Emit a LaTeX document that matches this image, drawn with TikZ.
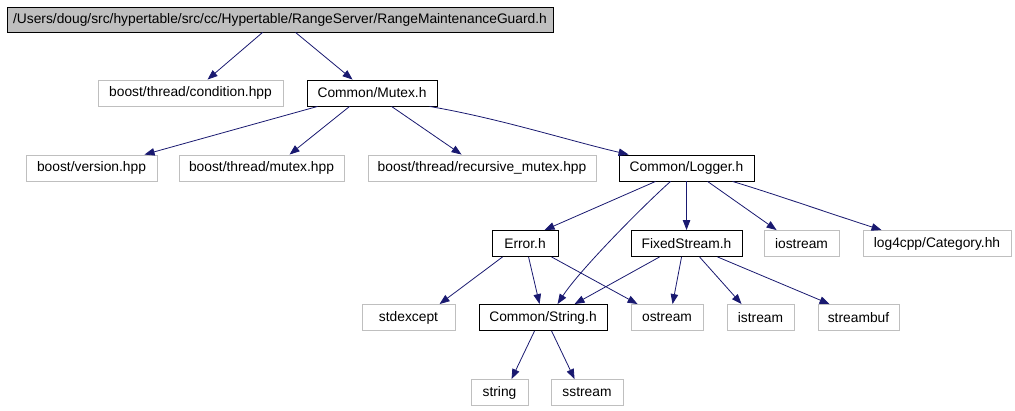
\documentclass[tikz,border=0pt]{standalone}
\usepackage{fontspec}
\setmainfont{Liberation Sans}
\usetikzlibrary{arrows.meta}
\definecolor{edgeblue}{HTML}{191970}
\definecolor{graybox}{HTML}{BFBFBF}
\begin{document}
\begin{tikzpicture}[x=1pt,y=-1pt,
  box/.style={draw=black,line width=0.9pt,inner sep=0pt,minimum height=26pt,font=\fontsize{13.8}{14}\selectfont},
  ext/.style={box,draw=graybox},
  rootbox/.style={box,fill=graybox,minimum height=25pt},
  edge/.style={draw=edgeblue,line width=0.8pt,-{Triangle[length=10pt,width=7.5pt]}}]
\useasboundingbox (0,0) rectangle (1015,411);
% nodes
\node[rootbox,minimum width=546pt] (root) at (280,19.5) {/Users/doug/src/hypertable/src/cc/Hypertable/RangeServer/RangeMaintenanceGuard.h};
\node[ext,minimum width=185pt] (cond) at (190.5,93) {boost/thread/condition.hpp};
\node[box,minimum width=130pt] (mutex) at (372,93) {Common/Mutex.h};
\node[ext,minimum width=131pt] (version) at (91.5,168) {boost/version.hpp};
\node[ext,minimum width=165pt] (bmutex) at (261.5,168) {boost/thread/mutex.hpp};
\node[ext,minimum width=228pt] (recm) at (482,168) {boost/thread/recursive\_mutex.hpp};
\node[box,minimum width=135pt] (logger) at (686.5,168) {Common/Logger.h};
\node[box,minimum width=66pt] (error) at (525,243.5) {Error.h};
\node[box,minimum width=111pt] (fixed) at (686.5,243.5) {FixedStream.h};
\node[ext,minimum width=75pt] (iostream) at (801.5,243.5) {iostream};
\node[ext,minimum width=148pt] (log4) at (937,243.5) {log4cpp/Category.hh};
\node[ext,minimum width=93pt] (stdexcept) at (408.5,317.5) {stdexcept};
\node[box,minimum width=128pt] (strh) at (543,317.5) {Common/String.h};
\node[ext,minimum width=72pt] (ostream) at (667,317.5) {ostream};
\node[ext,minimum width=67pt] (istream) at (760.5,317.5) {istream};
\node[ext,minimum width=81pt] (streambuf) at (858.5,317.5) {streambuf};
\node[ext,minimum width=57pt] (string) at (499.5,392.5) {string};
\node[ext,minimum width=72pt] (sstream) at (587,392.5) {sstream};
% edges
\draw[edge] ([xshift=256pt]root.south west) -- ([xshift=110pt]cond.north west);
\draw[edge] ([xshift=289pt]root.south west) -- ([xshift=46pt]mutex.north west);
\draw[edge] ([xshift=11pt]mutex.south west) -- ([xshift=119pt]version.north west);
\draw[edge] ([xshift=43pt]mutex.south west) -- ([xshift=111pt]bmutex.north west);
\draw[edge] ([xshift=85pt]mutex.south west) -- ([xshift=94pt]recm.north west);
\draw[edge] ([xshift=123pt]mutex.south west) .. controls +(70,12) and +(-60,-14) .. ([xshift=10pt]logger.north west);
\draw[edge] ([xshift=37pt]logger.south west) -- ([xshift=53pt]error.north west);
\draw[edge] ([xshift=52pt]logger.south west) .. controls +(-26,23) and +(22,-34) .. ([xshift=79pt]strh.north west);
\draw[edge] ([xshift=68pt]logger.south west) -- ([xshift=56pt]fixed.north west);
\draw[edge] ([xshift=89pt]logger.south west) -- ([xshift=13pt]iostream.north west);
\draw[edge] ([xshift=114pt]logger.south west) .. controls +(40,12) and +(-50,-16) .. ([xshift=19pt]log4.north west);
\draw[edge] ([xshift=11pt]error.south west) -- ([xshift=78pt]stdexcept.north west);
\draw[edge] ([xshift=37pt]error.south west) -- ([xshift=61pt]strh.north west);
\draw[edge] ([xshift=60pt]error.south west) -- ([xshift=7pt]ostream.north west);
\draw[edge] ([xshift=29pt]fixed.south west) -- ([xshift=96pt]strh.north west);
\draw[edge] ([xshift=51pt]fixed.south west) -- ([xshift=42pt]ostream.north west);
\draw[edge] ([xshift=69pt]fixed.south west) -- ([xshift=15pt]istream.north west);
\draw[edge] ([xshift=87pt]fixed.south west) -- ([xshift=12pt]streambuf.north west);
\draw[edge] ([xshift=56pt]strh.south west) -- ([xshift=41pt]string.north west);
\draw[edge] ([xshift=73pt]strh.south west) -- ([xshift=24pt]sstream.north west);
\end{tikzpicture}
\end{document}
